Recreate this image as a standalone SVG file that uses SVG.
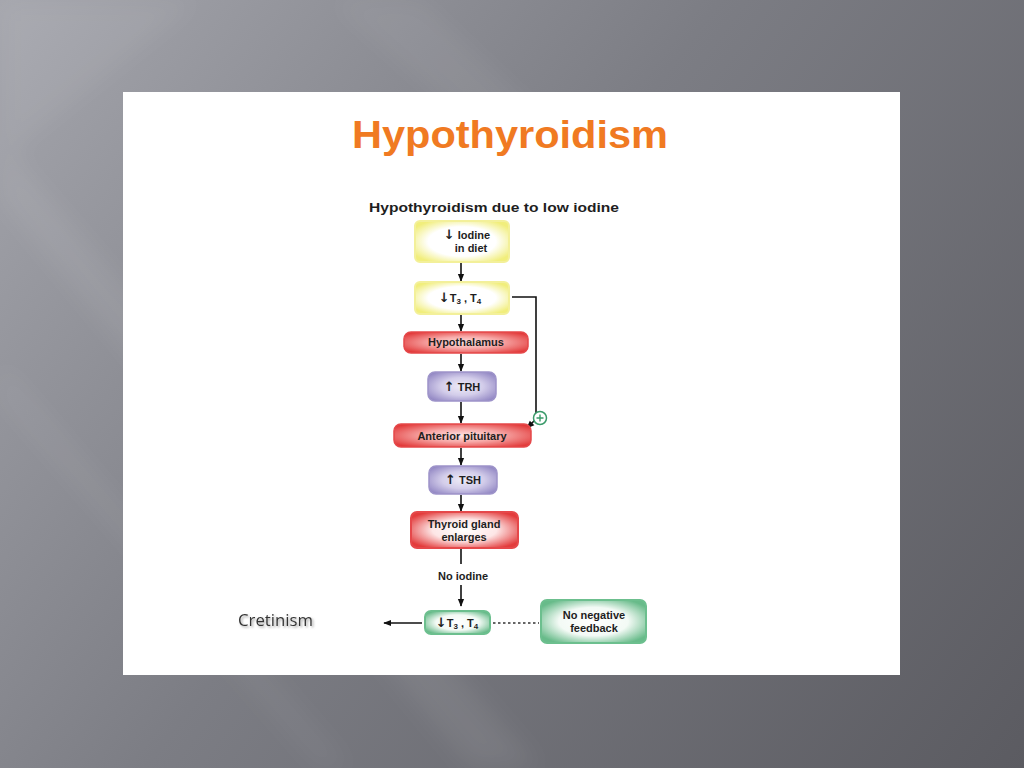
<svg xmlns="http://www.w3.org/2000/svg" width="1024" height="768" viewBox="0 0 1024 768">
<defs>
  <linearGradient id="bg" x1="0" y1="0" x2="1024" y2="768" gradientUnits="userSpaceOnUse">
    <stop offset="0" stop-color="#a5a6ad"/>
    <stop offset="0.45" stop-color="#7c7d84"/>
    <stop offset="1" stop-color="#5b5b61"/>
  </linearGradient>
  <radialGradient id="gYellow" cx="0.5" cy="0.5" r="0.6">
    <stop offset="0" stop-color="#ffffff"/>
    <stop offset="0.6" stop-color="#ffffff"/>
    <stop offset="1" stop-color="#f1ee7c"/>
  </radialGradient>
  <radialGradient id="gRed" cx="0.5" cy="0.5" r="0.62">
    <stop offset="0" stop-color="#fde3e3"/>
    <stop offset="0.45" stop-color="#f7a9a8"/>
    <stop offset="1" stop-color="#e23a3a"/>
  </radialGradient>
  <radialGradient id="gRed2" cx="0.5" cy="0.5" r="0.6">
    <stop offset="0" stop-color="#ffffff"/>
    <stop offset="0.5" stop-color="#fde6e6"/>
    <stop offset="1" stop-color="#e33c3c"/>
  </radialGradient>
  <radialGradient id="gPurple" cx="0.5" cy="0.5" r="0.62">
    <stop offset="0" stop-color="#eeebf7"/>
    <stop offset="0.5" stop-color="#d3cdea"/>
    <stop offset="1" stop-color="#9388c4"/>
  </radialGradient>
  <radialGradient id="gGreen" cx="0.5" cy="0.5" r="0.6">
    <stop offset="0" stop-color="#ffffff"/>
    <stop offset="0.55" stop-color="#f3faf5"/>
    <stop offset="1" stop-color="#68bb8a"/>
  </radialGradient>
  <marker id="ah" viewBox="0 0 10 10" refX="9" refY="5" markerWidth="5" markerHeight="6" orient="auto">
    <path d="M0,1 L10,5 L0,9 z" fill="#111"/>
  </marker>
  <filter id="shadow" x="-10%" y="-30%" width="130%" height="170%">
    <feDropShadow dx="1.5" dy="1.5" stdDeviation="1" flood-color="#888" flood-opacity="0.8"/>
  </filter>
  <filter id="soft" x="-20%" y="-20%" width="140%" height="140%">
    <feGaussianBlur stdDeviation="12"/>
  </filter>
  <style>
    .lbl{font-family:"Liberation Sans",Arial,sans-serif;font-weight:bold;font-size:11px;fill:#1e1e1e;text-anchor:middle}
    .arr{font-family:"DejaVu Sans",sans-serif;font-weight:bold;font-size:13px}
    .sub{font-size:8px}
    .conn{stroke:#111;stroke-width:1.6;fill:none}
    .ybox{fill:url(#gYellow);stroke:#f3f09a;stroke-width:2}
    .rbox{fill:url(#gRed);stroke:#e5484a;stroke-width:1.5}
    .rbox2{fill:url(#gRed2);stroke:#e5484a;stroke-width:2}
    .pbox{fill:url(#gPurple);stroke:#9d93c9;stroke-width:1.5}
    .gbox{fill:url(#gGreen);stroke:#6cbf8e;stroke-width:2}
  </style>
</defs>

<!-- background -->
<rect x="0" y="0" width="1024" height="768" fill="url(#bg)"/>
<g filter="url(#soft)">
  <polygon points="0,140 0,200 470,768 540,768" fill="#ffffff" opacity="0.07"/>
  <polygon points="0,360 0,400 320,768 350,768" fill="#ffffff" opacity="0.05"/>
  <polygon points="330,0 420,0 760,320 700,330" fill="#ffffff" opacity="0.05"/>
  <polygon points="0,0 200,0 0,160" fill="#ffffff" opacity="0.06"/>
</g>

<!-- white panel -->
<rect x="123" y="92" width="777" height="583" fill="#ffffff"/>

<!-- titles -->
<text x="510" y="148" font-family="'Comic Sans MS','Liberation Sans',sans-serif" font-weight="bold" font-size="38" fill="#f07a22" text-anchor="middle" textLength="316" lengthAdjust="spacingAndGlyphs">Hypothyroidism</text>
<text x="494" y="212" class="lbl" style="font-size:13px" textLength="250" lengthAdjust="spacingAndGlyphs">Hypothyroidism due to low iodine</text>

<!-- connectors -->
<g id="connectors">
  <line class="conn" x1="461" y1="263" x2="461" y2="281" marker-end="url(#ah)"/>
  <line class="conn" x1="461" y1="315" x2="461" y2="331" marker-end="url(#ah)"/>
  <line class="conn" x1="461" y1="354" x2="461" y2="371" marker-end="url(#ah)"/>
  <line class="conn" x1="461" y1="402" x2="461" y2="423" marker-end="url(#ah)"/>
  <line class="conn" x1="461" y1="448" x2="461" y2="465" marker-end="url(#ah)"/>
  <line class="conn" x1="461" y1="495" x2="461" y2="511" marker-end="url(#ah)"/>
  <line class="conn" x1="461" y1="549" x2="461" y2="564"/>
  <line class="conn" x1="461" y1="585" x2="461" y2="606" marker-end="url(#ah)"/>
  <polyline class="conn" points="512,297 536,297 536,419 527,428" marker-end="url(#ah)"/>
  <line class="conn" x1="422" y1="623" x2="384" y2="623" marker-end="url(#ah)"/>
  <line x1="493" y1="623" x2="539" y2="623" stroke="#333" stroke-width="1.3" stroke-dasharray="2.5,2.5"/>
  <g id="plus">
    <circle cx="540" cy="418" r="6.5" fill="#ffffff" stroke="#3a9a6a" stroke-width="1.5"/>
    <path d="M540,414.5 V421.5 M536.5,418 H543.5" stroke="#3a9a6a" stroke-width="1.4"/>
  </g>
</g>

<!-- nodes -->
<g id="iodine-diet">
  <rect class="ybox" x="415" y="221" width="94" height="41" rx="5"/>
  <text class="lbl" x="467" y="239"><tspan class="arr">↓</tspan> Iodine</text>
  <text class="lbl" x="471" y="252">in diet</text>
</g>
<g id="t3t4-top">
  <rect class="ybox" x="415" y="282" width="94" height="32" rx="5"/>
  <text class="lbl" x="460" y="302"><tspan class="arr">↓</tspan>T<tspan class="sub" dy="2">3</tspan><tspan dy="-2"> , T</tspan><tspan class="sub" dy="2">4</tspan></text>
</g>
<g id="hypothalamus">
  <rect class="rbox" x="404" y="332" width="124" height="21" rx="7"/>
  <text class="lbl" x="466" y="346">Hypothalamus</text>
</g>
<g id="trh">
  <rect class="pbox" x="428" y="372" width="68" height="29" rx="7"/>
  <text class="lbl" x="462" y="391"><tspan class="arr">↑</tspan> TRH</text>
</g>
<g id="anterior-pituitary">
  <rect class="rbox" x="394" y="424" width="137" height="23" rx="7"/>
  <text class="lbl" x="462" y="440">Anterior pituitary</text>
</g>
<g id="tsh">
  <rect class="pbox" x="429" y="466" width="68" height="28" rx="7"/>
  <text class="lbl" x="463" y="484"><tspan class="arr">↑</tspan> TSH</text>
</g>
<g id="thyroid">
  <rect class="rbox2" x="411" y="512" width="107" height="36" rx="6"/>
  <text class="lbl" x="464" y="528">Thyroid gland</text>
  <text class="lbl" x="464" y="541">enlarges</text>
</g>
<g id="no-iodine">
  <text class="lbl" x="463" y="580">No iodine</text>
</g>
<g id="t3t4-bottom">
  <rect class="gbox" x="425" y="611" width="65" height="23" rx="6"/>
  <text class="lbl" x="457" y="627"><tspan class="arr">↓</tspan>T<tspan class="sub" dy="2">3</tspan><tspan dy="-2"> , T</tspan><tspan class="sub" dy="2">4</tspan></text>
</g>
<g id="no-negative-feedback">
  <rect class="gbox" x="541" y="600" width="105" height="43" rx="6"/>
  <text class="lbl" x="594" y="619">No negative</text>
  <text class="lbl" x="594" y="632">feedback</text>
</g>
<g id="cretinism">
  <text x="238" y="626" font-family="'Open Sans','Liberation Sans',sans-serif" font-size="16" fill="#333" filter="url(#shadow)" textLength="75" lengthAdjust="spacingAndGlyphs">Cretinism</text>
</g>
</svg>
